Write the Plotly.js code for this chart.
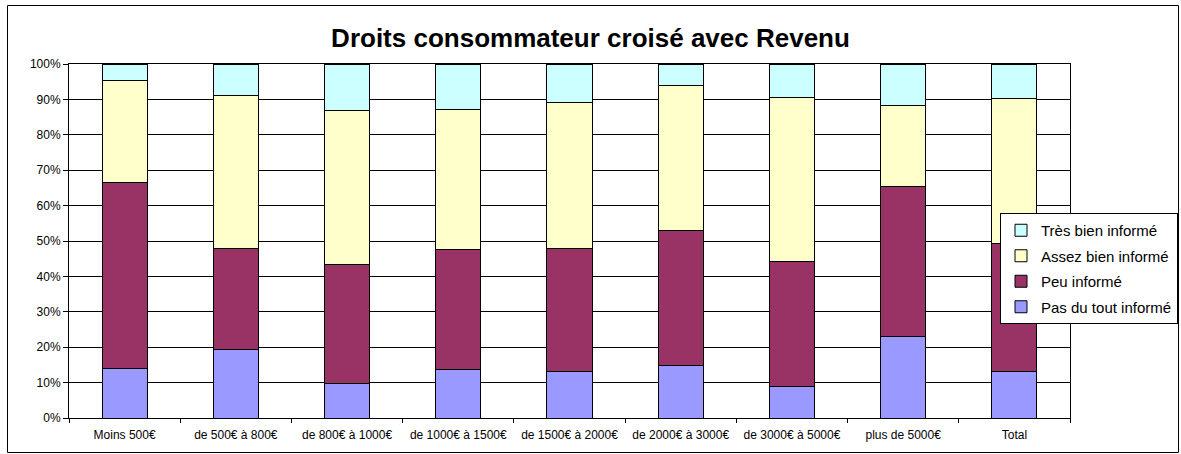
<!DOCTYPE html>
<html>
<head>
<meta charset="utf-8">
<script src="https://cdn.plot.ly/plotly-3.0.1.min.js"></script>
<style>
html,body{margin:0;padding:0;background:#fff;}
#chart{width:1181px;height:454px;}
</style>
</head>
<body>
<div id="chart"></div>
<script>
const categories = ["Moins 500€", "de 500€ à 800€", "de 800€ à 1000€", "de 1000€ à 1500€", "de 1500€ à 2000€", "de 2000€ à 3000€", "de 3000€ à 5000€", "plus de 5000€", "Total"];
const pasDuTout = [14.0, 19.4, 9.7, 13.8, 13.2, 14.7, 9.0, 23.1, 13.1];
const peu       = [52.6, 28.4, 33.6, 33.7, 34.6, 38.4, 35.3, 42.3, 36.1];
const assezBien = [28.7, 43.3, 43.6, 39.7, 41.2, 40.7, 46.1, 23.0, 41.0];
const tresBien  = [4.7, 8.9, 13.1, 12.8, 11.0, 6.2, 9.6, 11.6, 9.8];
const seriesNames = ["Pas du tout informé", "Peu informé", "Assez bien informé", "Très bien informé"];
const yTickVals = [0,10,20,30,40,50,60,70,80,90,100];
const yTickText = ["0%","10%","20%","30%","40%","50%","60%","70%","80%","90%","100%"];

const colors = ["#9999FF", "#993366", "#FFFFCC", "#CCFFFF"];
const seriesData = [pasDuTout, peu, assezBien, tresBien];

const traces = seriesData.map((vals, i) => ({
  type: "bar",
  name: seriesNames[i],
  legendgroup: "g" + i,
  legendrank: 1000 - i,
  x: categories,
  y: vals,
  marker: {color: colors[i], line: {color: "#000", width: 1}},
  hoverinfo: "x+y+name"
}));

const W = 1181, H = 454, L = 69, R = 111, T = 64, B = 36;
const pw = W - L - R, ph = H - T - B;
const px = v => (v - L) / pw;
const py = v => (H - B - v) / ph;

const font = "Liberation Sans, Arial, sans-serif";

const layout = {
  width: W, height: H,
  margin: {l: L, r: R, t: T, b: B, pad: 0, autoexpand: false},
  paper_bgcolor: "#fff",
  plot_bgcolor: "#fff",
  barmode: "stack",
  bargap: 0.595,
  font: {family: font, size: 12, color: "#000"},
  title: {
    text: "<b>Droits consommateur croisé avec Revenu</b>",
    font: {family: font, size: 26, color: "#000"},
    x: 0.5, xanchor: "center",
    y: 1 - 38 / H, yanchor: "middle", yref: "container"
  },
  xaxis: {
    type: "category",
    showline: true, linecolor: "#000", linewidth: 1, mirror: true,
    ticks: "outside", tickson: "boundaries", ticklen: 4, tickcolor: "#000",
    ticklabelstandoff: 6,
    tickfont: {family: font, size: 12, color: "#000"},
    showgrid: false
  },
  yaxis: {
    range: [0, 100],
    tickvals: yTickVals, ticktext: yTickText,
    showline: true, linecolor: "#000", linewidth: 1, mirror: true,
    ticks: "outside", ticklen: 5, tickcolor: "#000",
    tickfont: {family: font, size: 12, color: "#000"},
    showgrid: true, gridcolor: "#000", gridwidth: 1,
    zeroline: false
  },
  legend: {
    x: px(1000), y: py(213), xanchor: "left", yanchor: "top",
    bgcolor: "#fff", bordercolor: "#000", borderwidth: 1,
    traceorder: "grouped",
    tracegroupgap: 3,
    font: {family: font, size: 15, color: "#000"},
    itemclick: false
  },
  shapes: [{
    type: "rect", xref: "paper", yref: "paper",
    x0: px(7.5), x1: px(1178.5), y0: py(452.5), y1: py(5.5),
    line: {color: "#000", width: 1}, fillcolor: "rgba(0,0,0,0)", layer: "below"
  }]
};

Plotly.newPlot("chart", traces, layout, {displayModeBar: false, staticPlot: true});
</script>
</body>
</html>
